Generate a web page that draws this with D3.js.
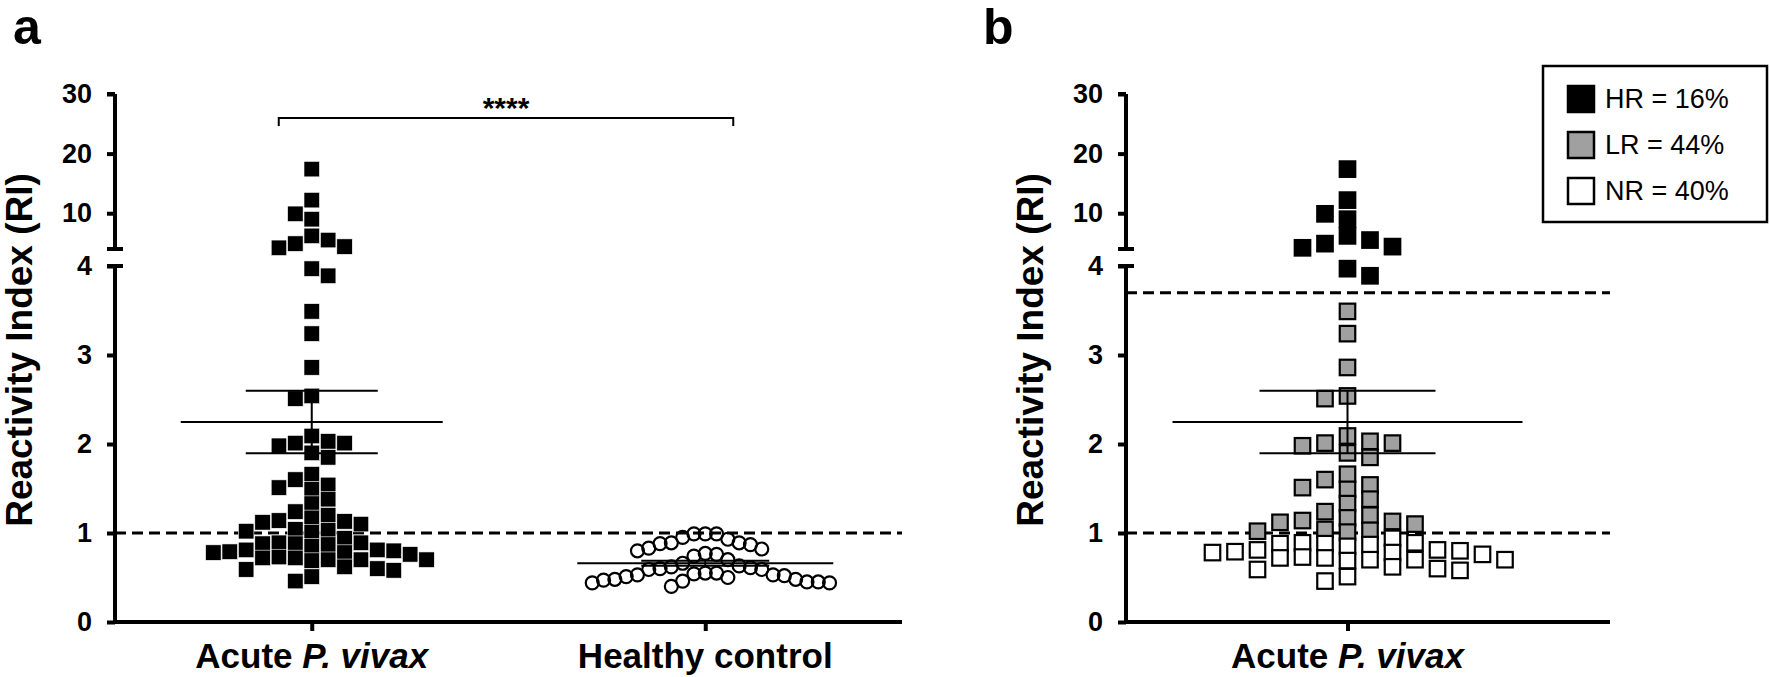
<!DOCTYPE html>
<html><head><meta charset="utf-8">
<script src="https://cdn.jsdelivr.net/npm/d3@7"></script>
<style>
body{margin:0;background:#fff}
svg{display:block}
text{font-family:'Liberation Sans',Arial,Helvetica,sans-serif}
</style>
</head><body>
<svg id="c" width="1770" height="677"></svg>
<script>
// ---------------- data ----------------
const categoriesA = ["Acute", "Healthy control"];
const categoriesB = ["Acute"];
const acuteRI = [17.4, 12.2, 9.9, 9.0, 6.2, 5.5, 4.9, 4.4, 4.2, 3.97, 3.89,
  3.49, 3.24, 2.86, 2.54, 2.51, 2.09, 2.03, 2.01, 2.01, 1.98, 1.90, 1.85,
  1.66, 1.60, 1.54, 1.51, 1.49, 1.38, 1.33, 1.24, 1.20, 1.17, 1.14, 1.13, 1.12, 1.10,
  1.04, 1.03, 1.02, 1.01, 0.94, 0.89, 0.89, 0.88, 0.88, 0.87, 0.85,
  0.81, 0.81, 0.80, 0.79, 0.78, 0.78, 0.76, 0.73, 0.72, 0.72, 0.70, 0.70, 0.70, 0.69,
  0.62, 0.60, 0.59, 0.58, 0.51, 0.46];
const healthyRI = [0.99, 0.99, 0.99, 0.95, 0.93, 0.89, 0.89, 0.88, 0.87, 0.83,
  0.82, 0.80, 0.77, 0.76, 0.74, 0.70, 0.66, 0.63, 0.62, 0.61, 0.60, 0.59, 0.59,
  0.55, 0.55, 0.54, 0.53, 0.53, 0.52, 0.51, 0.50, 0.48, 0.48, 0.47, 0.46, 0.45,
  0.45, 0.44, 0.44, 0.40];
const yTicksLower = [0, 1, 2, 3, 4];
const yTicksUpper = [10, 20, 30];
const cutoffLow = 1.0;   // NR / LR threshold
const cutoffHigh = 3.7;  // LR / HR threshold
const groupNames = ["HR", "LR", "NR"];
const groupColors = ["#000000", "#a0a0a0", "#ffffff"];
const significance = "****";

// ---------------- helpers ----------------
const svg = d3.select("#c");
const Y0 = 622, Y4 = 266, YB = 249, Y30 = 94;
const yLow = d3.scaleLinear().domain([0, 4]).range([Y0, Y4]);
const yUp = d3.scaleLinear().domain([4, 30]).range([YB, Y30]);
const yPos = v => v <= 4 ? yLow(v) : yUp(v);

function swarm(vals, minDy) {
  const order = d3.range(vals.length).sort((a, b) => vals[b] - vals[a]);
  const placed = [], ks = new Array(vals.length);
  let flip = false;
  for (const i of order) {
    const y = yPos(vals[i]);
    for (let m = 0; m < 200; m++) {
      const cands = m === 0 ? [0] : (flip ? [m, -m] : [-m, m]);
      let found = null;
      for (const k of cands) {
        if (!placed.some(p => Math.abs(p.k - k) < 2 && Math.abs(p.y - y) < minDy)) { found = k; break; }
      }
      if (found !== null) { ks[i] = found; placed.push({k: found, y}); if (found !== 0) flip = !flip; break; }
    }
  }
  return ks;
}
const mean = a => d3.mean(a);
const sem = a => d3.deviation(a) / Math.sqrt(a.length);

function drawYAxis(g, xAxis) {
  const ga = g.append("g").attr("transform", `translate(${xAxis},0)`);
  const fmt = d3.format("d");
  const axL = d3.axisLeft(yLow).tickValues(yTicksLower).tickFormat(fmt).tickSize(8).tickSizeOuter(0).tickPadding(15);
  const axU = d3.axisLeft(yUp).tickValues(yTicksUpper).tickFormat(fmt).tickSize(8).tickSizeOuter(0).tickPadding(15);
  const gl = ga.append("g").call(axL);
  const gu = ga.append("g").call(axU);
  gu.select(".domain").attr("d", `M0,${YB}V${Y30}`);
  gl.select(".domain").attr("d", `M0,${Y0}V${Y4}`);
  [gl, gu].forEach(s => {
    s.selectAll("path,line").attr("stroke", "#000").attr("stroke-width", 4);
    s.selectAll("text").attr("font-size", 27).attr("font-weight", "bold").attr("fill", "#000");
  });
  ga.append("line").attr("x1", -8).attr("x2", 0).attr("y1", Y30).attr("y2", Y30).attr("stroke", "#000").attr("stroke-width", 4);
  [YB, Y4].forEach(y => ga.append("line").attr("x1", -8).attr("x2", 8).attr("y1", y).attr("y2", y).attr("stroke", "#000").attr("stroke-width", 4));
  g.append("text").attr("transform", `translate(${xAxis - 96},350) rotate(-90)`)
    .attr("text-anchor", "middle").attr("dominant-baseline", "central")
    .attr("font-size", 37).attr("font-weight", "bold").text("Reactivity Index (RI)");
}

function xLabel(g, x, y, plain) {
  const t = g.append("text").attr("x", x).attr("y", y).attr("text-anchor", "middle")
    .attr("font-size", 35).attr("font-weight", "bold");
  if (plain === "Acute") {
    t.append("tspan").text("Acute ");
    t.append("tspan").attr("font-style", "italic").text("P. vivax");
  } else t.text(plain);
}

function meanBars(g, cx, vals, wMean, wSem, sw) {
  const m = mean(vals), s = sem(vals);
  const ln = (x1, x2, y1, y2) => g.append("line").attr("x1", x1).attr("x2", x2).attr("y1", y1).attr("y2", y2)
    .attr("stroke", "#000").attr("stroke-width", sw);
  ln(cx, cx, yPos(m + s), yPos(m - s));
  ln(cx - wSem, cx + wSem, yPos(m + s), yPos(m + s));
  ln(cx - wSem, cx + wSem, yPos(m - s), yPos(m - s));
  ln(cx - wMean, cx + wMean, yPos(m), yPos(m));
}

// ---------------- panel a ----------------
const ga = svg.append("g");
const xA = d3.scalePoint().domain(categoriesA).range([115, 902]).padding(0.5);
ga.append("text").attr("x", 13).attr("y", 44).attr("font-size", 50).attr("font-weight", "bold").text("a");

ga.append("line").attr("x1", 115).attr("x2", 902).attr("y1", yPos(cutoffLow)).attr("y2", yPos(cutoffLow))
  .attr("stroke", "#000").attr("stroke-width", 3).attr("stroke-dasharray", "11,6");

const kA = swarm(acuteRI, 14);
const uA = 8.2, sqA = 15.5;
ga.append("g").selectAll("rect").data(acuteRI).join("rect")
  .attr("x", (d, i) => xA("Acute") + kA[i] * uA - sqA / 2)
  .attr("y", d => yPos(d) - sqA / 2)
  .attr("width", sqA).attr("height", sqA)
  .attr("fill", "#000").attr("stroke", "#fff").attr("stroke-width", 0.6);

const kH = swarm(healthyRI, 17);
const uH = 5.65;
ga.append("g").selectAll("circle").data(healthyRI).join("circle")
  .attr("cx", (d, i) => xA("Healthy control") + kH[i] * uH)
  .attr("cy", d => yPos(d)).attr("r", 6.5)
  .attr("fill", "none").attr("stroke", "#000").attr("stroke-width", 2.2);

meanBars(ga, xA("Acute"), acuteRI, 131, 66, 2);
meanBars(ga, xA("Healthy control"), healthyRI, 128, 64, 2);

drawYAxis(ga, 115);
const axA = ga.append("g").attr("transform", `translate(0,${Y0})`)
  .call(d3.axisBottom(xA).tickSize(9).tickSizeOuter(0).tickFormat(""));
axA.selectAll("path,line").attr("stroke", "#000").attr("stroke-width", 4);
axA.select(".domain").attr("d", `M113,0H902`);
xLabel(ga, xA("Acute"), 668, "Acute");
xLabel(ga, xA("Healthy control"), 668, "Healthy control");

const bx1 = xA("Acute") - 33, bx2 = xA("Healthy control") + 28, by = 118;
ga.append("path").attr("d", `M${bx1},${by + 8}V${by}H${bx2}V${by + 8}`)
  .attr("fill", "none").attr("stroke", "#000").attr("stroke-width", 2);
ga.append("text").attr("x", (bx1 + bx2) / 2).attr("y", 118).attr("text-anchor", "middle")
  .attr("font-size", 30).attr("font-weight", "bold").text(significance);

// ---------------- panel b ----------------
const gb = svg.append("g");
const xB = d3.scalePoint().domain(categoriesB).range([1126, 1569]).padding(0.5);
gb.append("text").attr("x", 983).attr("y", 44).attr("font-size", 50).attr("font-weight", "bold").text("b");

[cutoffHigh, cutoffLow].forEach(c => gb.append("line").attr("x1", 1126).attr("x2", 1610)
  .attr("y1", yPos(c)).attr("y2", yPos(c))
  .attr("stroke", "#000").attr("stroke-width", 3).attr("stroke-dasharray", "11,6"));

const grp = v => v > cutoffHigh ? 0 : (v >= cutoffLow ? 1 : 2);
const uB = 11.25, sqB = 15.5;
gb.append("g").selectAll("rect").data(acuteRI).join("rect")
  .attr("x", (d, i) => xB("Acute") + kA[i] * uB - sqB / 2)
  .attr("y", d => yPos(d) - sqB / 2)
  .attr("width", sqB).attr("height", sqB)
  .attr("fill", d => groupColors[grp(d)]).attr("stroke", "#000").attr("stroke-width", 2.2);

meanBars(gb, xB("Acute"), acuteRI, 175, 88, 2);
drawYAxis(gb, 1126);
const axB = gb.append("g").attr("transform", `translate(0,${Y0})`)
  .call(d3.axisBottom(xB).tickSize(9).tickSizeOuter(0).tickFormat(""));
axB.selectAll("path,line").attr("stroke", "#000").attr("stroke-width", 4);
axB.select(".domain").attr("d", `M1124,0H1610`);
xLabel(gb, xB("Acute"), 668, "Acute");

// legend
const counts = groupNames.map((n, gi) => acuteRI.filter(v => grp(v) === gi).length);
const lg = gb.append("g");
lg.append("rect").attr("x", 1543).attr("y", 66).attr("width", 224).attr("height", 156)
  .attr("fill", "#fff").attr("stroke", "#000").attr("stroke-width", 2.5);
groupNames.forEach((n, i) => {
  const cy = 99 + i * 46;
  lg.append("rect").attr("x", 1568).attr("y", cy - 13).attr("width", 26).attr("height", 26)
    .attr("fill", groupColors[i]).attr("stroke", "#000").attr("stroke-width", 2.5);
  lg.append("text").attr("x", 1605).attr("y", cy).attr("dominant-baseline", "central")
    .attr("font-size", 27).text(`${n} = ${Math.round(100 * counts[i] / acuteRI.length)}%`);
});
</script>
</body></html>
